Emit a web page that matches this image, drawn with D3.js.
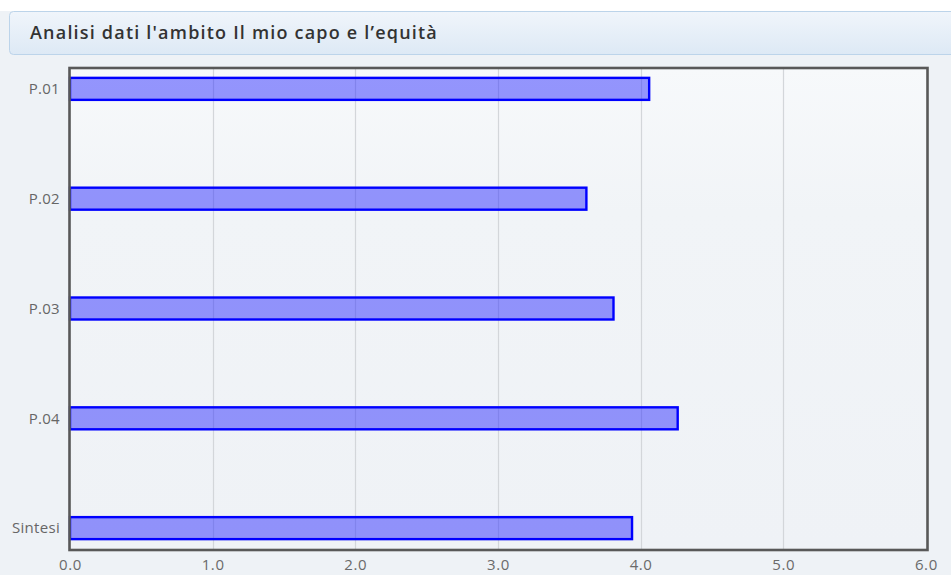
<!DOCTYPE html>
<html>
<head>
<meta charset="utf-8">
<script src="https://cdn.jsdelivr.net/npm/d3@7"></script>
<style>
  html, body { margin: 0; padding: 0; background: #ffffff; }
  svg { display: block; }
</style>
</head>
<body>
<svg id="chart" width="951" height="575"></svg>
<script>
// Chart content
const titleText = "Analisi dati l'ambito Il mio capo e l’equità";
const categories = ["P.01", "P.02", "P.03", "P.04", "Sintesi"];
const values = [4.06, 3.62, 3.81, 4.26, 3.94];
const tickValues = [0, 1, 2, 3, 4, 5, 6];

const svg = d3.select("#chart");
const W = 951, H = 575;
const plot = { left: 70, right: 927, top: 68, bottom: 549 };

const defs = svg.append("defs");
const hg = defs.append("linearGradient").attr("id", "hdrGrad").attr("x1", 0).attr("y1", 0).attr("x2", 0).attr("y2", 1);
hg.append("stop").attr("offset", "0%").attr("stop-color", "#f0f5fb");
hg.append("stop").attr("offset", "100%").attr("stop-color", "#dde9f5");
const pg = defs.append("linearGradient").attr("id", "plotGrad").attr("x1", 0).attr("y1", 0).attr("x2", 0).attr("y2", 1);
pg.append("stop").attr("offset", "0%").attr("stop-color", "#f7f9fb");
pg.append("stop").attr("offset", "30%").attr("stop-color", "#f1f4f7");
pg.append("stop").attr("offset", "100%").attr("stop-color", "#eff2f6");

// page background below the header strip
svg.append("rect").attr("x", 0).attr("y", 11).attr("width", W).attr("height", H - 11).attr("fill", "#eef2f6");

// header panel
svg.append("rect")
  .attr("x", 9.5).attr("y", 11.5).attr("width", W + 20).attr("height", 43)
  .attr("rx", 4).attr("ry", 4)
  .attr("fill", "url(#hdrGrad)").attr("stroke", "#bcd4ea").attr("stroke-width", 1);
svg.append("text")
  .attr("x", 30).attr("y", 38.5)
  .attr("font-family", "'Open Sans', sans-serif")
  .attr("font-size", 18).attr("font-weight", 600)
  .attr("letter-spacing", 1.2)
  .attr("fill", "#333333")
  .text(titleText);

// scales
const x = d3.scaleLinear().domain([0, 6]).range([plot.left, plot.left + 6 * 142.65]);
const y = d3.scalePoint().domain(categories).range([plot.top, plot.bottom]).padding(0.19);

// plot area background
svg.append("rect")
  .attr("x", plot.left).attr("y", plot.top)
  .attr("width", plot.right - plot.left).attr("height", plot.bottom - plot.top)
  .attr("fill", "url(#plotGrad)");

// vertical grid lines
svg.append("g").selectAll("line")
  .data(tickValues.slice(1, -1))
  .join("line")
  .attr("x1", d => Math.round(x(d)) + 0.5).attr("x2", d => Math.round(x(d)) + 0.5)
  .attr("y1", plot.top).attr("y2", plot.bottom)
  .attr("stroke", "#d3d6da").attr("stroke-width", 1.2);

// bars
const barH = 22;
svg.append("g").selectAll("rect")
  .data(categories.map((c, i) => ({ c, v: values[i] })))
  .join("rect")
  .attr("x", x(0))
  .attr("y", d => y(d.c) - barH / 2)
  .attr("width", d => x(d.v) - x(0))
  .attr("height", barH)
  .attr("fill", "rgba(40,40,255,0.48)")
  .attr("stroke", "#0000ff")
  .attr("stroke-width", 2.4);

// frame
svg.append("rect")
  .attr("x", plot.left - 0.5).attr("y", plot.top)
  .attr("width", plot.right - plot.left + 1).attr("height", plot.bottom - plot.top + 1)
  .attr("fill", "none").attr("stroke", "#585858").attr("stroke-width", 2.6);

// x axis
const xAxis = svg.append("g")
  .attr("transform", `translate(0,${plot.bottom})`)
  .call(d3.axisBottom(x).tickValues(tickValues).tickFormat(d3.format(".1f")).tickSize(0).tickPadding(10));
xAxis.select(".domain").remove();
xAxis.selectAll("text")
  .attr("font-family", "'Open Sans', sans-serif").attr("font-size", 15)
  .attr("letter-spacing", 0.6).attr("fill", "#6a6a6a");

// y axis
const yAxis = svg.append("g")
  .attr("transform", `translate(${plot.left},0)`)
  .call(d3.axisLeft(y).tickSize(0).tickPadding(10));
yAxis.select(".domain").remove();
yAxis.selectAll("text")
  .attr("font-family", "'Open Sans', sans-serif").attr("font-size", 15)
  .attr("letter-spacing", 0.3).attr("fill", "#666666");
</script>
</body>
</html>
